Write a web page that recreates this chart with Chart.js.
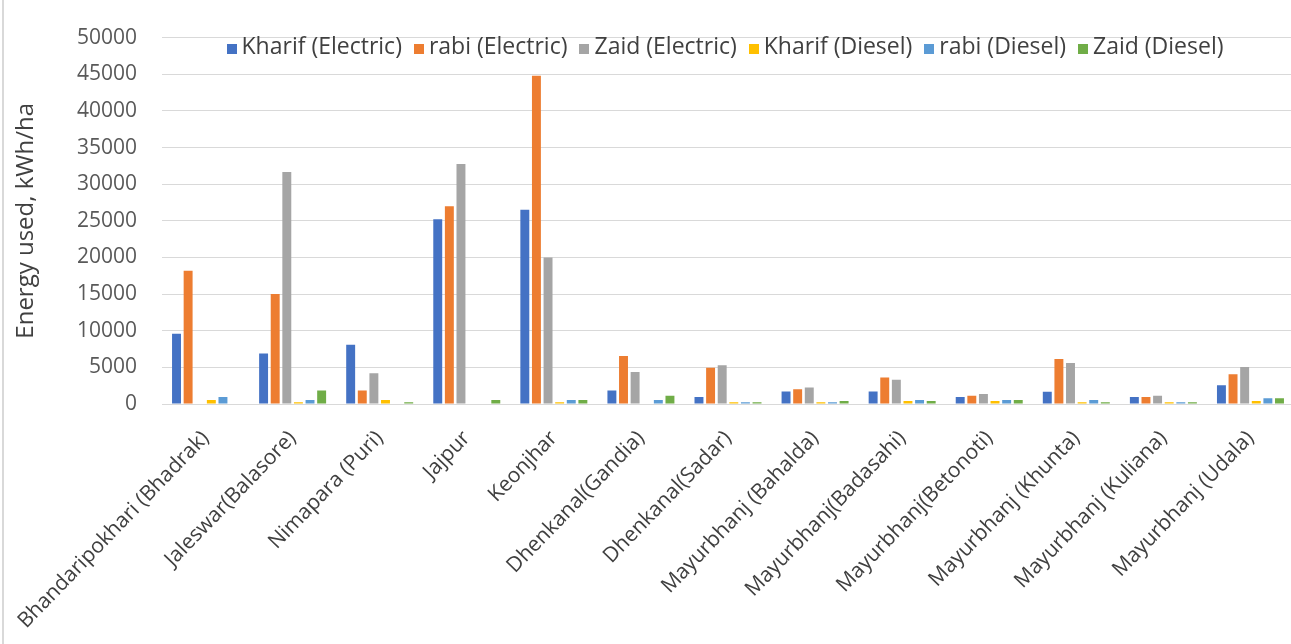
<!DOCTYPE html>
<html>
<head>
<meta charset="utf-8">
<script src="https://cdn.jsdelivr.net/npm/chart.js@4.4.1/dist/chart.umd.min.js"></script>
<style>
    html, body { margin: 0; padding: 0; background: #fff; }
    #wrap { position: relative; width: 1291px; height: 644px; overflow: hidden; }
    #frame { position: absolute; left: 2px; top: 0; bottom: 0; width: 0; border-left: 2px solid #d9d9d9; pointer-events: none; }
    #legend {
        position: absolute; top: 29px; left: 162px; width: 1126px;
        display: flex; justify-content: center; gap: 12px;
        font: 23px "Open Sans", sans-serif; color: #404040; line-height: 32px;
        pointer-events: none;
    }
    #legend span.box { display: inline-block; width: 10px; height: 10px; margin-right: 5px; }
</style>
</head>
<body>
<div id="wrap">
    <canvas id="energyChart" width="1296" height="644"></canvas>
    <div id="legend"></div>
    <div id="frame"></div>
</div>
<script>
// --- Data ---
const categories = [
    'Bhandaripokhari (Bhadrak)', 'Jaleswar(Balasore)', 'Nimapara (Puri)', 'Jajpur', 'Keonjhar',
    'Dhenkanal(Gandia)', 'Dhenkanal(Sadar)', 'Mayurbhanj (Bahalda)', 'Mayurbhanj(Badasahi)',
    'Mayurbhanj(Betonoti)', 'Mayurbhanj (Khunta)', 'Mayurbhanj (Kuliana)', 'Mayurbhanj (Udala)'
];
const seriesNames = ['Kharif (Electric)', 'rabi (Electric)', 'Zaid (Electric)', 'Kharif (Diesel)', 'rabi (Diesel)', 'Zaid (Diesel)'];
const kharifElectric = [9600, 6900, 8100, 25200, 26500, 1850, 950, 1700, 1700, 950, 1670, 950, 2570];
const rabiElectric   = [18200, 15000, 1850, 27000, 44800, 6550, 4930, 2000, 3600, 1130, 6140, 950, 4070];
const zaidElectric   = [0, 31650, 4200, 32750, 20000, 4380, 5280, 2250, 3300, 1350, 5600, 1130, 5050];
const kharifDiesel   = [550, 250, 550, 0, 250, 0, 250, 250, 400, 400, 250, 250, 400];
const rabiDiesel     = [950, 550, 0, 0, 550, 550, 250, 250, 550, 550, 550, 250, 770];
const zaidDiesel     = [0, 1850, 250, 550, 550, 1130, 250, 400, 400, 550, 250, 250, 770];
const yTicks = [0, 5000, 10000, 15000, 20000, 25000, 30000, 35000, 40000, 45000, 50000];

const colors = ['#4472C4', '#ED7D31', '#A5A5A5', '#FFC000', '#5B9BD5', '#70AD47'];
const values = [kharifElectric, rabiElectric, zaidElectric, kharifDiesel, rabiDiesel, zaidDiesel];

const datasets = seriesNames.map((name, i) => ({
    label: name,
    data: values[i],
    backgroundColor: colors[i],
    categoryPercentage: 0.8,
    barPercentage: 0.77
}));

// --- HTML legend (sits over the top of the plot like the original) ---
const legendEl = document.getElementById('legend');
seriesNames.forEach((name, i) => {
    const item = document.createElement('div');
    item.innerHTML = '<span class="box" style="background:' + colors[i] + '"></span>' + name;
    legendEl.appendChild(item);
});

const ctx = document.getElementById('energyChart').getContext('2d');
new Chart(ctx, {
    type: 'bar',
    data: { labels: categories, datasets: datasets },
    options: {
        responsive: false,
        animation: false,
        layout: { padding: { top: 35, right: 2, bottom: 0, left: 0 } },
        plugins: {
            legend: { display: false },
            tooltip: { enabled: false }
        },
        scales: {
            x: {
                grid: { display: false, drawTicks: false },
                border: { color: '#d9d9d9' },
                ticks: {
                    autoSkip: false,
                    minRotation: 46,
                    maxRotation: 46,
                    padding: 22,
                    color: '#404040',
                    font: { family: 'Open Sans', size: 21 }
                },
                afterFit: scale => {
                    scale.height = 240;
                    // long rotated first label must not push the plot area right
                    scale.paddingLeft = 0;
                    scale.paddingRight = 0;
                }
            },
            y: {
                min: 0,
                max: 50000,
                afterBuildTicks: scale => { scale.ticks = yTicks.map(v => ({ value: v })); },
                grid: { color: '#d9d9d9', drawTicks: false },
                border: { display: false },
                ticks: {
                    padding: 25,
                    color: '#595959',
                    font: { family: 'Open Sans', size: 21 },
                    callback: v => String(v)
                },
                title: {
                    display: true,
                    text: 'Energy used, kWh/ha',
                    color: '#404040',
                    font: { family: 'Open Sans', size: 24 },
                    padding: { top: 12, bottom: 0 }
                },
                afterFit: scale => { scale.width = 162; }
            }
        }
    }
});
</script>
</body>
</html>
